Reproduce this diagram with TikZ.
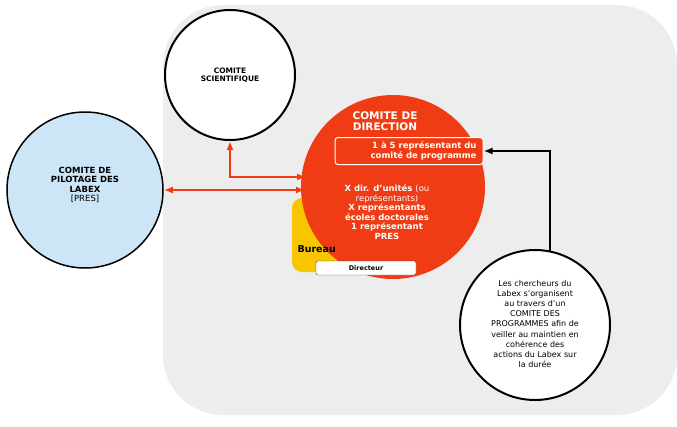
\documentclass[tikz,border=0pt]{standalone}
\usepackage{fontspec}
\setmainfont{DejaVu Sans}
\usetikzlibrary{arrows.meta}
\definecolor{redc}{HTML}{F03C14}
\definecolor{greyc}{HTML}{EDEDED}
\definecolor{bluec}{HTML}{CCE6F7}
\definecolor{yelc}{HTML}{F7C600}
\begin{document}
\begin{tikzpicture}[x=1pt,y=-1pt,
  lab/.style={font=\bfseries\fontsize{8.5}{9.5}\selectfont,align=center},
  redarr/.style={draw=redc,line width=2pt,{Latex[length=9pt,width=7pt]}-{Latex[length=9pt,width=7pt]}},
  blkarr/.style={draw=black,line width=2pt,-{Latex[length=9pt,width=7pt]}}]
\useasboundingbox (0,0) rectangle (677,426);
\fill[greyc,rounded corners=60pt] (163,5) rectangle (677,415);
\node[circle,draw,line width=2pt,fill=white,minimum size=130pt] (sci) at (230,75) {};
\node[lab,anchor=north,font=\bfseries\fontsize{7.5}{8.5}\selectfont] at (230,64) {COMITE\\SCIENTIFIQUE};
\node[circle,draw,line width=1.5pt,fill=bluec,minimum size=156pt] (pil) at (85,190) {};
\node[lab,align=center] at (85,185) {COMITE DE\\PILOTAGE DES\\LABEX\\\mdseries [PRES]};
\fill[yelc,rounded corners=10pt] (292,198) rectangle (345,272);
\node[circle,fill=redc,minimum size=184pt] (dir) at (393,187) {};
\node[lab,text=white,font=\bfseries\fontsize{10.5}{11.5}\selectfont] at (385,121) {COMITE DE\\DIRECTION};
\node[draw=white,line width=1pt,fill=redc,rounded corners=3pt,minimum width=148pt,minimum height=27pt] (prog) at (409,151) {};
\node[lab,text=white,align=right,anchor=east] at (480,151) {1 à 5 représentant du\\comité de programme};
\node[lab,text=white] at (387,212) {X dir. d'unités \mdseries(ou\\\mdseries représentants)\\X représentants\\écoles doctorales\\1 représentant\\PRES};
\node[lab,font=\bfseries\fontsize{9.5}{10}\selectfont,anchor=west] at (294,249) {Bureau};
\node[draw=black!70,fill=white,rounded corners=2pt,minimum width=100pt,minimum height=14pt,lab,font=\bfseries\fontsize{6.5}{7}\selectfont] (dirc) at (366,268) {Directeur};
\node[circle,draw,line width=2pt,fill=white,minimum size=150pt] (ch) at (535,325) {};
\node[align=center,font=\fontsize{8}{10.2}\selectfont] at (535,324) {Les chercheurs du\\Labex s'organisent\\au travers d'un\\COMITE DES\\PROGRAMMES afin de\\veiller au maintien en\\cohérence des\\actions du Labex sur\\la durée};
\draw[blkarr] (550,251) |- (prog.east);
\draw[redarr] (pil.east) -- (305,190);
\draw[redarr] (sci.south) |- (306,177);
\end{tikzpicture}
\end{document}
